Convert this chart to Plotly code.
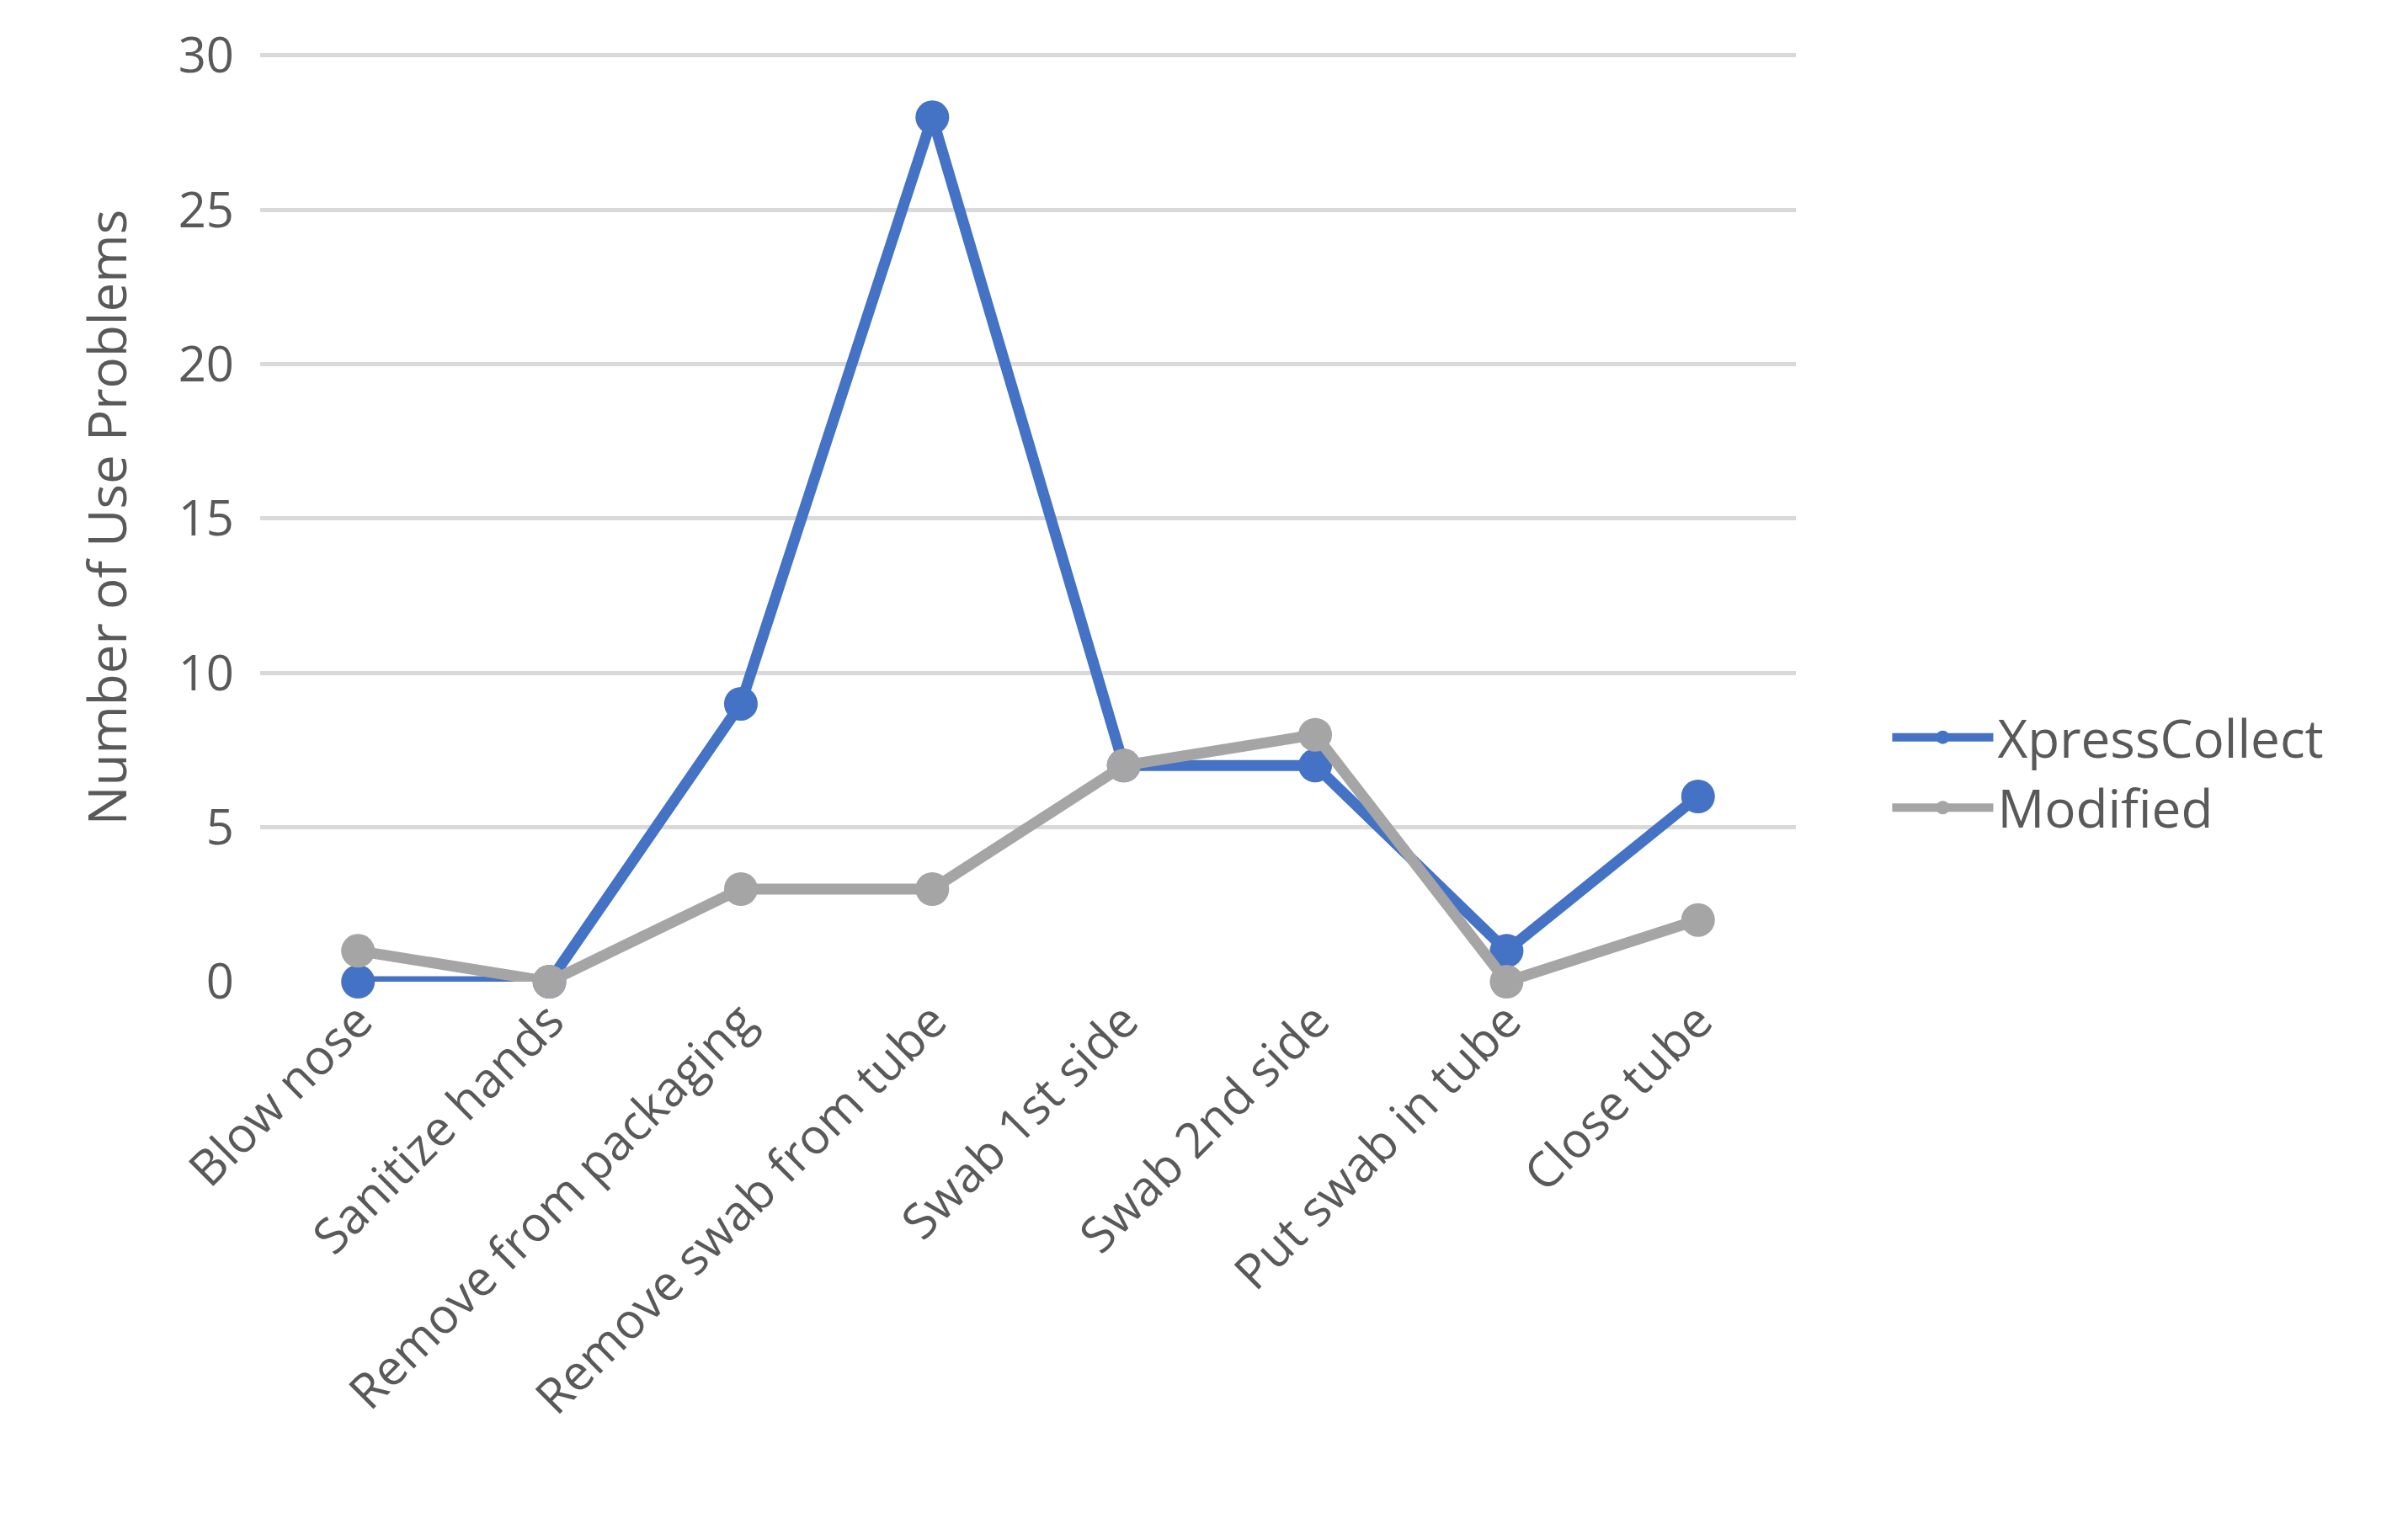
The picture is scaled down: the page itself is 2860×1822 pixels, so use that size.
import plotly.graph_objects as go

categories = ["Blow nose", "Sanitize hands", "Remove from packaging", "Remove swab from tube",
              "Swab 1st side", "Swab 2nd side", "Put swab in tube", "Close tube"]
xpress = [0, 0, 9, 28, 7, 7, 1, 6]
modified = [1, 0, 3, 3, 7, 8, 0, 2]
y_ticks = [0, 5, 10, 15, 20, 25, 30]

fig = go.Figure()
fig.add_trace(go.Scatter(x=categories, y=xpress, name="XpressCollect", mode="lines+markers",
                         cliponaxis=False,
                         line=dict(color="#4472C4", width=13), marker=dict(size=40, color="#4472C4")))
fig.add_trace(go.Scatter(x=categories, y=modified, name="Modified", mode="lines+markers",
                         cliponaxis=False,
                         line=dict(color="#A5A5A5", width=13), marker=dict(size=40, color="#A5A5A5")))

fig.update_layout(
    width=2860, height=1822, paper_bgcolor="white", plot_bgcolor="white",
    margin=dict(l=301, r=735, t=55, b=664),
    font=dict(family="Open Sans", color="#595959", size=60),
    legend=dict(x=1.06, y=0.225, yanchor="middle", xanchor="left", font=dict(size=62),
                tracegroupgap=60, itemwidth=120),
    xaxis=dict(tickangle=-45, showgrid=False, showline=False, ticks="", tickfont=dict(size=58)),
    yaxis=dict(range=[0, 30.08], tickvals=y_ticks, gridcolor="#D9D9D9", gridwidth=5,
               zeroline=False, ticks="", tickfont=dict(size=58), ticklabelstandoff=30,
               title=dict(text="Number of Use Problems", font=dict(size=62), standoff=40)),
)
fig.write_html("out.html")
